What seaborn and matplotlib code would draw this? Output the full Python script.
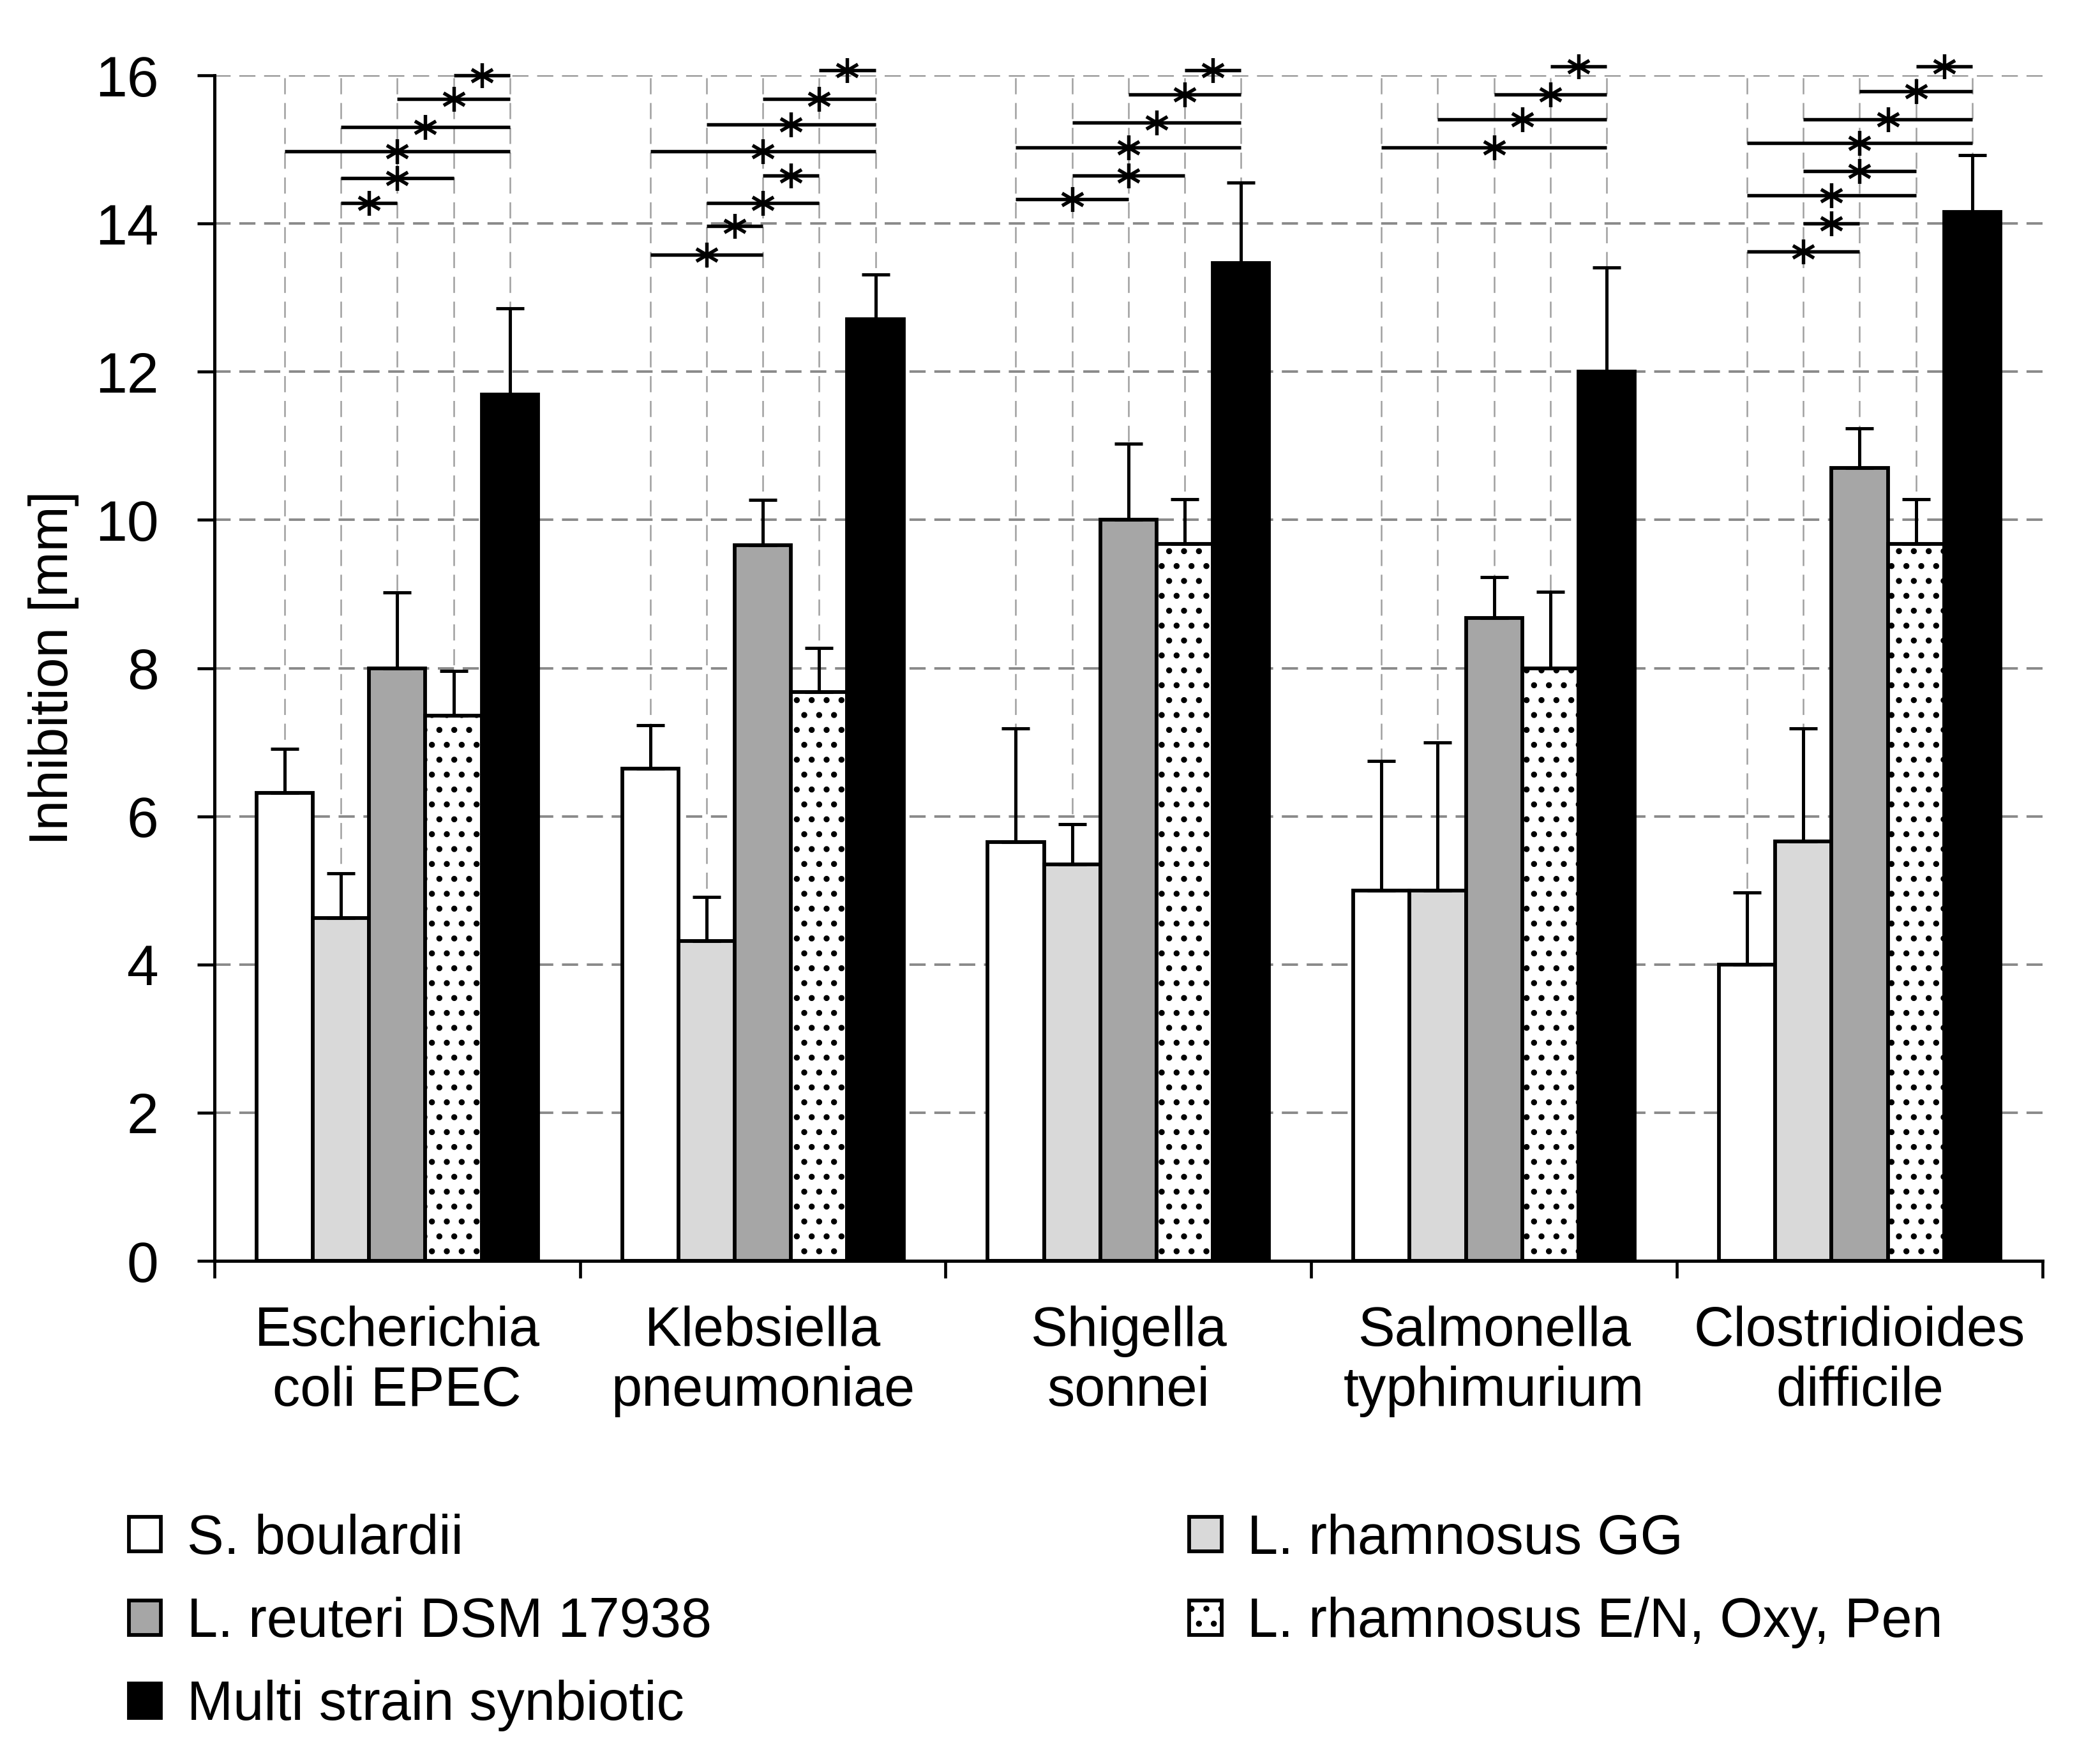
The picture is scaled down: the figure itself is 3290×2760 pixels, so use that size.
import matplotlib.pyplot as plt
import numpy as np
import pandas as pd
import seaborn as sns
from matplotlib.path import Path

pathogens = ['Escherichia\ncoli EPEC', 'Klebsiella\npneumoniae',
             'Shigella\nsonnei', 'Salmonella\ntyphimurium',
             'Clostridioides\ndifficile']
strains = ['S. boulardii', 'L. rhamnosus GG', 'L. reuteri DSM 17938',
           'L. rhamnosus E/N, Oxy, Pen', 'Multi strain synbiotic']

# mean inhibition zone [mm], one value per pathogen
s_boulardii = [6.32, 6.64, 5.65, 5.0, 4.0]
l_rhamnosus_gg = [4.63, 4.32, 5.35, 5.0, 5.66]
l_reuteri = [8.0, 9.66, 10.0, 8.68, 10.70]
l_rhamnosus_en = [7.36, 7.68, 9.68, 8.0, 9.68]
multi_strain = [11.69, 12.71, 13.47, 12.0, 14.16]

# standard deviation (only the upper half is drawn)
sd_s_boulardii = [0.59, 0.59, 1.54, 1.75, 0.97]
sd_l_rhamnosus_gg = [0.60, 0.59, 0.54, 2.0, 1.53]
sd_l_reuteri = [1.02, 0.61, 1.03, 0.55, 0.54]
sd_l_rhamnosus_en = [0.60, 0.59, 0.60, 1.03, 0.60]
sd_multi_strain = [1.17, 0.60, 1.08, 1.41, 0.76]

# significant pairs (strain a, strain b, bracket height) per pathogen
sig_ecoli = [(3, 4, 16.0), (2, 4, 15.68), (1, 4, 15.30), (0, 4, 14.98),
             (1, 3, 14.61), (1, 2, 14.28)]
sig_klebsiella = [(3, 4, 16.07), (2, 4, 15.68), (1, 4, 15.34), (0, 4, 14.98),
                  (2, 3, 14.65), (1, 3, 14.28), (1, 2, 13.97), (0, 2, 13.58)]
sig_shigella = [(3, 4, 16.07), (2, 4, 15.74), (1, 4, 15.36), (0, 4, 15.03),
                (1, 3, 14.65), (0, 2, 14.33)]
sig_salmonella = [(3, 4, 16.12), (2, 4, 15.74), (1, 4, 15.41), (0, 4, 15.03)]
sig_clostridioides = [(3, 4, 16.12), (2, 4, 15.79), (1, 4, 15.41),
                      (0, 4, 15.09), (1, 3, 14.71), (0, 3, 14.38),
                      (1, 2, 14.0), (0, 2, 13.62)]


def main():
    sns.set_style('ticks')
    plt.rcParams['font.family'] = ['Liberation Sans', 'DejaVu Sans']
    plt.rcParams['lines.scale_dashes'] = False
    plt.rcParams['hatch.linewidth'] = 2.4
    for key in ['text.color', 'axes.labelcolor', 'xtick.color',
                'ytick.color', 'xtick.labelcolor', 'ytick.labelcolor']:
        plt.rcParams[key] = 'black'

    means = [s_boulardii, l_rhamnosus_gg, l_reuteri, l_rhamnosus_en,
             multi_strain]
    sds = [sd_s_boulardii, sd_l_rhamnosus_gg, sd_l_reuteri,
           sd_l_rhamnosus_en, sd_multi_strain]
    sig = [sig_ecoli, sig_klebsiella, sig_shigella, sig_salmonella,
           sig_clostridioides]

    data = pd.DataFrame({
        'pathogen': np.tile(pathogens, len(strains)),
        'strain': np.repeat(strains, len(pathogens)),
        'inhibition': np.concatenate(means),
    })

    palette = dict(zip(strains, ['white', '#d9d9d9', '#a6a6a6', 'white',
                                 'black']))

    fig = plt.figure(figsize=(23.5, 2760 / 140))
    ax = fig.add_axes([0.1021, 0.2844, 0.8705, 0.6728])

    sns.barplot(ax=ax, data=data, x='pathogen', y='inhibition',
                hue='strain', order=pathogens, hue_order=strains,
                palette=palette, saturation=1, width=0.77,
                edgecolor='black', linewidth=3, errorbar=None,
                legend=False, zorder=1)

    bars = list(ax.containers)
    for patch in bars[3]:
        patch.set_hatch('.')

    # bar centres, taken from the drawn bars
    centres = [[p.get_x() + p.get_width() / 2 for p in c] for c in bars]

    for i, container in enumerate(bars):
        heights = [p.get_height() for p in container]
        for cx in centres[i]:
            ax.axvline(cx, color='#a0a0a0', lw=1.3, ls=(0, (13, 7)),
                       zorder=0.6)
        ax.errorbar(centres[i], heights,
                    yerr=[np.zeros(len(heights)), sds[i]],
                    fmt='none', ecolor='black', elinewidth=2.6,
                    capsize=11.5, capthick=2.6, zorder=2)

    star = Path([(0, -1), (0, 1), (-0.85, -0.5), (0.85, 0.5),
                 (-0.85, 0.5), (0.85, -0.5)],
                [Path.MOVETO, Path.LINETO] * 3)

    for g, pairs in enumerate(sig):
        for a, b, level in pairs:
            xa, xb = centres[a][g], centres[b][g]
            ax.plot([xa, xb], [level, level], color='black', lw=2.8,
                    solid_capstyle='butt', clip_on=False, zorder=3)
            ax.plot((xa + xb) / 2, level, marker=star, ms=20,
                    mfc='none', mec='black', mew=2.8, clip_on=False,
                    zorder=4)

    ax.set_ylim(0, 16)
    ax.set_yticks(range(0, 17, 2))
    ax.set_xlim(-0.5, len(pathogens) - 0.5)
    ax.set_xticks(np.arange(-0.5, len(pathogens), 1))
    ax.set_xticklabels([])
    ax.set_xticks(range(len(pathogens)), pathogens, minor=True)

    ax.yaxis.grid(True, color='#8a8a8a', lw=2.0, ls=(0, (13, 7)))
    ax.xaxis.grid(False)
    ax.set_axisbelow(True)

    ax.tick_params(axis='both', which='major', direction='out',
                   length=14, width=2.4, color='black')
    ax.tick_params(axis='y', labelsize=46, pad=31)
    ax.tick_params(axis='x', which='minor', length=0, pad=36,
                   labelsize=44.5)

    for side in ['top', 'right']:
        ax.spines[side].set_visible(False)
    for side in ['left', 'bottom']:
        ax.spines[side].set_linewidth(2.6)
        ax.spines[side].set_color('black')

    ax.set_xlabel('')
    ax.set_ylabel('Inhibition [mm]', fontsize=44, labelpad=13)

    order = [0, 2, 4, 1, 3]
    fig.legend([bars[i] for i in order],
               [strains[i] for i in order],
               ncol=2, loc='upper left', bbox_to_anchor=(0.0614, 0.141),
               frameon=False, fontsize=44.5, borderpad=0,
               borderaxespad=0, handlelength=0.58, handleheight=0.58,
               handletextpad=0.47, labelspacing=0.57, columnspacing=8.65)

    fig.savefig('out.png', dpi=140)
    plt.close(fig)


main()
